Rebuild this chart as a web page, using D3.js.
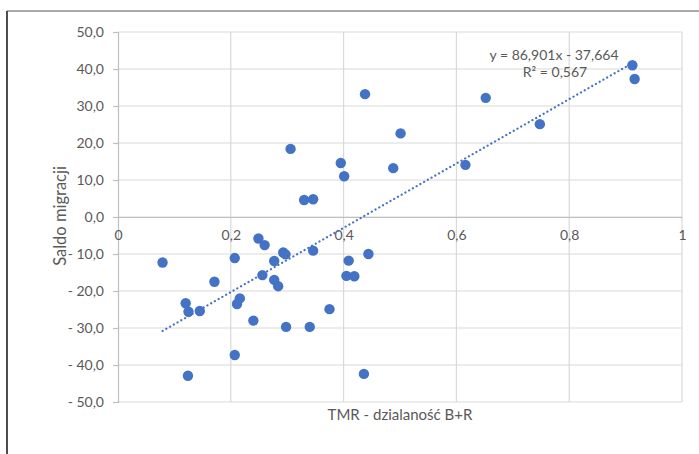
<!DOCTYPE html>
<html>
<head>
<meta charset="utf-8">
<script src="https://cdn.jsdelivr.net/npm/d3@7"></script>
<style>
  html, body { margin: 0; padding: 0; background: #fff; }
  svg { display: block; }
  text { font-family: Lato, "Open Sans", sans-serif; fill: #595959; }
</style>
</head>
<body>
<svg id="chart" width="699" height="454"></svg>
<script>
// ---- data ----
const xValues = [0.079, 0.120, 0.125, 0.145, 0.171, 0.124, 0.207, 0.211, 0.216, 0.207,
                 0.249, 0.260, 0.277, 0.293, 0.297, 0.256, 0.277, 0.284, 0.346, 0.240,
                 0.298, 0.340, 0.375, 0.409, 0.405, 0.419, 0.444, 0.436, 0.438, 0.501,
                 0.306, 0.395, 0.401, 0.488, 0.616, 0.330, 0.346, 0.652, 0.748, 0.912, 0.916];
const yValues = [-12.3, -23.3, -25.6, -25.4, -17.5, -42.9, -11.1, -23.5, -22.0, -37.3,
                 -5.8, -7.6, -11.9, -9.6, -10.1, -15.7, -17.0, -18.7, -9.1, -28.0,
                 -29.7, -29.7, -24.9, -11.8, -15.9, -16.0, -10.0, -42.4, 33.2, 22.6,
                 18.4, 14.6, 11.0, 13.2, 14.1, 4.6, 4.8, 32.2, 25.1, 41.0, 37.3];
const xTicks = [0, 0.2, 0.4, 0.6, 0.8, 1];
const yTicks = [-50, -40, -30, -20, -10, 0, 10, 20, 30, 40, 50];
const trendSlope = 86.901;
const trendIntercept = -37.664;
const equationLabel = "y = 86,901x - 37,664";
const r2Label = "R² = 0,567";
const xTitle = "TMR - dzialaność B+R";
const yTitle = "Saldo migracji";

// ---- layout ----
const svg = d3.select("#chart");
const x = d3.scaleLinear().domain([0, 1]).range([118, 682]);
const y = d3.scaleLinear().domain([-50, 50]).range([402, 32]);
const blue = "#4472c4";
const grid = "#d9d9d9";

const fmtY = v => {
  const s = d3.format(".1f")(Math.abs(v)).replace(".", ",");
  return v < 0 ? "- " + s : s;
};
const fmtX = v => (v === 0 || v === 1) ? String(v) : String(v).replace(".", ",");

// outer frame (cropped border)
svg.append("line").attr("x1", 7).attr("x2", 699).attr("y1", 11).attr("y2", 11)
  .attr("stroke", "#8c8c8c").attr("stroke-width", 1.5);
svg.append("line").attr("x1", 7).attr("x2", 7).attr("y1", 11).attr("y2", 454)
  .attr("stroke", "#4d4d4d").attr("stroke-width", 2);

// gridlines
const g = svg.append("g");
g.selectAll("line.h").data(yTicks).join("line").attr("class", "h")
  .attr("x1", x(0)).attr("x2", x(1))
  .attr("y1", d => y(d)).attr("y2", d => y(d))
  .attr("stroke", grid).attr("stroke-width", 1.2);
g.selectAll("line.v").data(xTicks.filter(d => d !== 0)).join("line").attr("class", "v")
  .attr("x1", d => x(d)).attr("x2", d => x(d))
  .attr("y1", y(50)).attr("y2", y(-50))
  .attr("stroke", grid).attr("stroke-width", 1.2);

// y axis
const yAxis = svg.append("g").attr("transform", `translate(${x(0)},0)`)
  .call(d3.axisLeft(y).tickValues(yTicks).tickFormat(fmtY).tickSize(5).tickPadding(9));
yAxis.select(".domain").attr("stroke", "#bfbfbf").attr("stroke-width", 1.2);
yAxis.selectAll(".tick line").attr("stroke", "#bfbfbf").attr("stroke-width", 1.2);
yAxis.selectAll(".tick text").style("font-family", "Lato, sans-serif")
  .style("font-size", "14px").attr("fill", "#595959");

// x axis at y = 0
const xAxis = svg.append("g").attr("transform", `translate(0,${y(0)})`)
  .call(d3.axisBottom(x).tickValues(xTicks).tickFormat(fmtX).tickSize(0).tickPadding(13));
xAxis.select(".domain").attr("stroke", "#bfbfbf").attr("stroke-width", 1.2);
xAxis.selectAll(".tick text").style("font-family", "Lato, sans-serif")
  .style("font-size", "14px").attr("fill", "#595959");

// trendline
const xMin = d3.min(xValues), xMax = d3.max(xValues);
svg.append("line")
  .attr("x1", x(xMin)).attr("y1", y(trendSlope * xMin + trendIntercept))
  .attr("x2", x(xMax)).attr("y2", y(trendSlope * xMax + trendIntercept))
  .attr("stroke", blue).attr("stroke-width", 2.2)
  .attr("stroke-dasharray", "0.1,4.2").attr("stroke-linecap", "round");

// points
svg.append("g").selectAll("circle").data(xValues.map((v, i) => [v, yValues[i]])).join("circle")
  .attr("cx", d => x(d[0])).attr("cy", d => y(d[1])).attr("r", 5.2)
  .attr("fill", blue);

// equation labels
svg.append("text").attr("x", 554).attr("y", 56).attr("text-anchor", "middle")
  .attr("dominant-baseline", "middle").style("font-size", "14px").text(equationLabel);
svg.append("text").attr("x", 555).attr("y", 73).attr("text-anchor", "middle")
  .attr("dominant-baseline", "middle").style("font-size", "14px").text(r2Label);

// axis titles
svg.append("text").attr("x", 400).attr("y", 416).attr("text-anchor", "middle")
  .attr("dominant-baseline", "middle").style("font-size", "15px").text(xTitle);
svg.append("text").attr("transform", `translate(62,216) rotate(-90)`)
  .attr("text-anchor", "middle").attr("dominant-baseline", "middle")
  .style("font-size", "16.5px").text(yTitle);
</script>
</body>
</html>
